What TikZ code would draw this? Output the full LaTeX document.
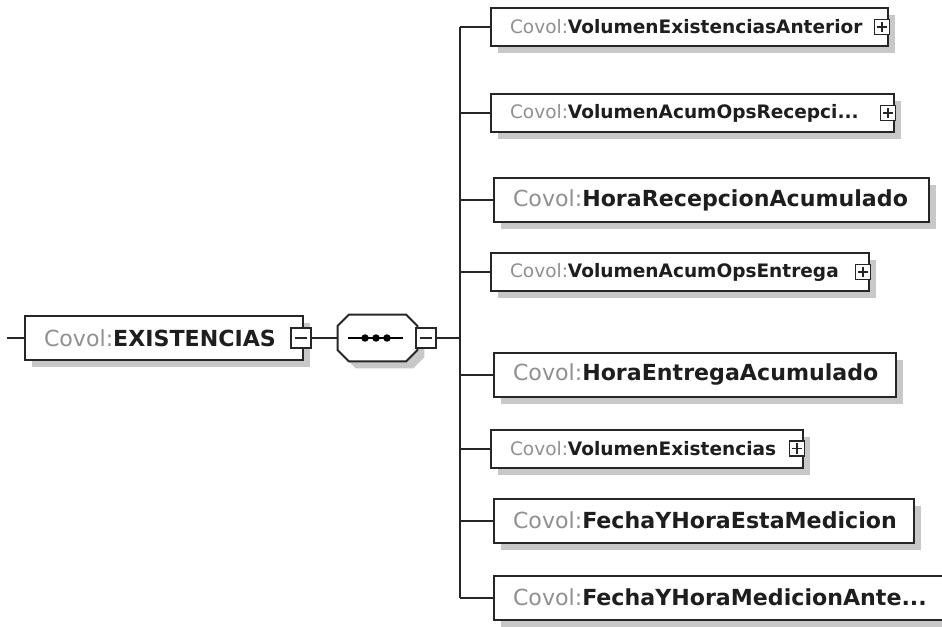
\documentclass[tikz,border=0pt]{standalone}
\usepackage{fontspec}
\setmainfont{DejaVu Sans}
\usetikzlibrary{shadows,calc}
\def\pxl{0.75pt}
\definecolor{covgray}{HTML}{909090}
\definecolor{covdark}{HTML}{1E1E1E}
\definecolor{shadowgray}{HTML}{C8C8C8}
\newcommand{\cvl}[1]{\mbox{\textcolor{covgray}{Covol:}\textcolor{covdark}{\bfseries #1}}}
% octagon outline around node #1, shifted by (#2,#3), chamfer #4
\newcommand{\octpath}[4]{($(#1.north west)+(#2+#4,#3)$) -- ($(#1.north east)+(#2-#4,#3)$) -- ($(#1.north east)+(#2,#3+#4)$) -- ($(#1.south east)+(#2,#3-#4)$) -- ($(#1.south east)+(#2-#4,#3)$) -- ($(#1.south west)+(#2+#4,#3)$) -- ($(#1.south west)+(#2,#3-#4)$) -- ($(#1.north west)+(#2,#3+#4)$) -- cycle}
\tikzset{
  x=0.75pt, y=-0.75pt,
  conn/.style={line width=1.5pt, draw=black!85},
  shad/.style={drop shadow={shadow xshift=7*\pxl, shadow yshift=-7*\pxl, fill=shadowgray, opacity=1}},
  elbox/.style={draw=black!85, line width=1.5pt, fill=white, shad, rectangle, inner xsep=0pt, inner ysep=0pt,
     anchor=west, minimum width=#1*\pxl, text width=(#1-38)*\pxl, align=left},
  smallel/.style={elbox=#1, minimum height=38*\pxl, font=\fontsize{13.9}{16}\selectfont},
  bigel/.style={elbox=#1, minimum height=44*\pxl, font=\fontsize{16.6}{19}\selectfont},
  iconbox/.style={draw=black!85, fill=white, line width=1.1pt, rectangle, inner sep=0pt, minimum size=#1*\pxl},
  plusicon/.style={iconbox=15,
    path picture={
      \draw[line width=1.1pt] ($(path picture bounding box.west)!0.15!(path picture bounding box.east)$) -- ($(path picture bounding box.west)!0.85!(path picture bounding box.east)$);
      \draw[line width=1.1pt] ($(path picture bounding box.south)!0.15!(path picture bounding box.north)$) -- ($(path picture bounding box.south)!0.85!(path picture bounding box.north)$);}},
  minusicon/.style={iconbox=20,
    path picture={
      \draw[line width=1.1pt] ($(path picture bounding box.west)!0.18!(path picture bounding box.east)$) -- ($(path picture bounding box.west)!0.82!(path picture bounding box.east)$);}},
  seqframe/.style={rectangle, inner sep=0pt, minimum width=79*\pxl, minimum height=46*\pxl},
  dot/.style={circle, fill=black, inner sep=0pt, minimum size=7.5*\pxl}
}
\begin{document}
\begin{tikzpicture}
\useasboundingbox[fill=white] (0,0) rectangle (942,627);

% root element
\coordinate (stub) at (7,338);
\node[bigel=278] (root) at (24,338) {\cvl{EXISTENCIAS}};
\node[minusicon] (rm) at (301,338) {};

% sequence compositor
\node[seqframe] (seq) at (377.5,338) {};
\fill[shadowgray] \octpath{seq}{7}{7}{11};
\draw[fill=white, draw=black!85, line width=1.5pt] \octpath{seq}{0}{0}{11};
\node[minusicon] (sm) at (426,338) {};
\coordinate (sl) at (348,338);
\coordinate (sr) at (403,338);
\draw[line width=1.6pt] (sl) -- (sr);
\node[dot] (d1) at (365,338) {};
\node[dot] (d2) at (376,338) {};
\node[dot] (d3) at (387,338) {};

% bus junctions
\coordinate (j0) at (460,338);
\coordinate (j1) at (460,27);
\coordinate (j2) at (460,113);
\coordinate (j3) at (460,200);
\coordinate (j4) at (460,272);
\coordinate (j5) at (460,374.5);
\coordinate (j6) at (460,448.5);
\coordinate (j7) at (460,520.5);
\coordinate (j8) at (460,597.5);

% children
\node[smallel=397] (b1) at (490,27) {\cvl{VolumenExistenciasAnterior}};
\node[smallel=403] (b2) at (490,113) {\cvl{VolumenAcumOpsRecepci...}};
\node[bigel=435] (b3) at (493,200) {\cvl{HoraRecepcionAcumulado}};
\node[smallel=378] (b4) at (490,272) {\cvl{VolumenAcumOpsEntrega}};
\node[bigel=402] (b5) at (493,374.5) {\cvl{HoraEntregaAcumulado}};
\node[smallel=312] (b6) at (490,448.5) {\cvl{VolumenExistencias}};
\node[bigel=420] (b7) at (493,520.5) {\cvl{FechaYHoraEstaMedicion}};
\node[bigel=460] (b8) at (493,597.5) {\cvl{FechaYHoraMedicionAnte...}};

% expand icons
\node[plusicon] (p1) at ($(b1.east)+(-7,0)$) {};
\node[plusicon] (p2) at ($(b2.east)+(-7,0)$) {};
\node[plusicon] (p4) at ($(b4.east)+(-7,0)$) {};
\node[plusicon] (p6) at ($(b6.east)+(-7,0)$) {};

% connectors
\draw[conn] (stub) -- (root.west);
\draw[conn] (rm.east) -- (seq.west);
\draw[conn] (sm.east) -- (j0);
\draw[conn] (j1) -- (j8);
\draw[conn] (j1) -- (b1.west);
\draw[conn] (j2) -- (b2.west);
\draw[conn] (j3) -- (b3.west);
\draw[conn] (j4) -- (b4.west);
\draw[conn] (j5) -- (b5.west);
\draw[conn] (j6) -- (b6.west);
\draw[conn] (j7) -- (b7.west);
\draw[conn] (j8) -- (b8.west);
\end{tikzpicture}
\end{document}
